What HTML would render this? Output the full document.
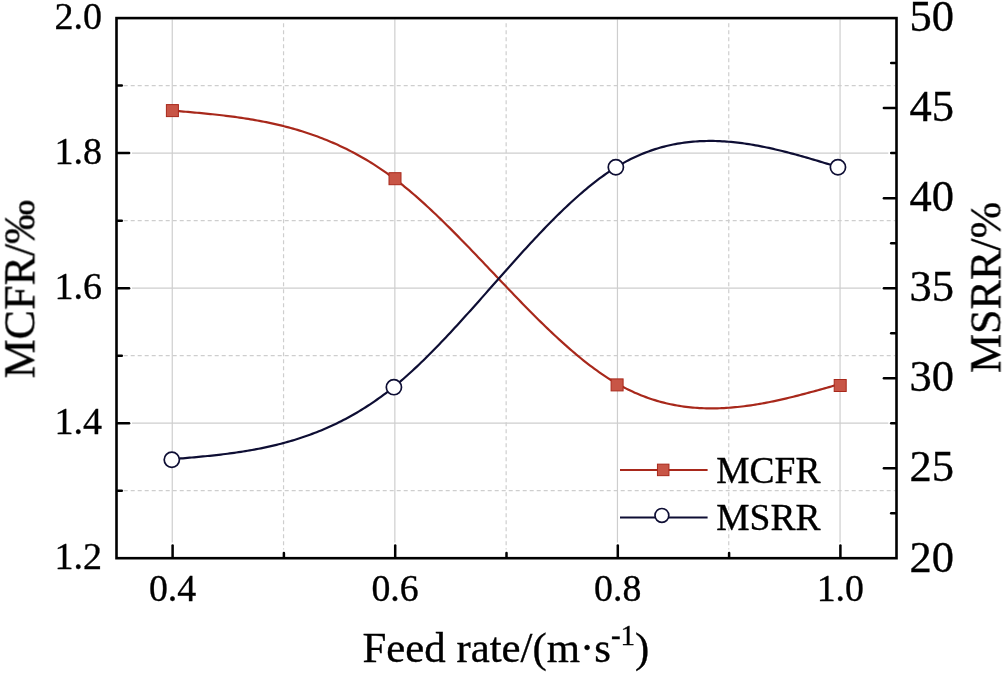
<!DOCTYPE html>
<html><head><meta charset="utf-8"><style>
html,body{margin:0;padding:0;background:#fff;}
body{width:1003px;height:673px;overflow:hidden;font-family:"Liberation Serif",serif;}
svg{display:block;} text{will-change:transform;}
</style></head><body>
<svg width="1003" height="673" viewBox="0 0 1003 673">
<rect width="1003" height="673" fill="#fff"/>
<line x1="172.25" y1="19.40" x2="172.25" y2="542.5" stroke="#cecece" stroke-width="1.2"/>
<line x1="394.85" y1="19.40" x2="394.85" y2="542.5" stroke="#cecece" stroke-width="1.2"/>
<line x1="617.45" y1="19.40" x2="617.45" y2="542.5" stroke="#cecece" stroke-width="1.2"/>
<line x1="840.05" y1="19.40" x2="840.05" y2="542.5" stroke="#cecece" stroke-width="1.2"/>
<line x1="283.55" y1="23.3" x2="283.55" y2="549.5" stroke="#cecece" stroke-width="1.2" stroke-dasharray="4 3"/>
<line x1="506.15" y1="23.3" x2="506.15" y2="549.5" stroke="#cecece" stroke-width="1.2" stroke-dasharray="4 3"/>
<line x1="728.75" y1="23.3" x2="728.75" y2="549.5" stroke="#cecece" stroke-width="1.2" stroke-dasharray="4 3"/>
<line x1="132" y1="423.18" x2="888.30" y2="423.18" stroke="#cecece" stroke-width="1.2"/>
<line x1="132" y1="288.15" x2="880.90" y2="288.15" stroke="#cecece" stroke-width="1.2"/>
<line x1="132" y1="153.12" x2="888.30" y2="153.12" stroke="#cecece" stroke-width="1.2"/>
<line x1="123.7" y1="490.69" x2="895.20" y2="490.69" stroke="#cecece" stroke-width="1.2" stroke-dasharray="4 3"/>
<line x1="123.7" y1="355.66" x2="895.20" y2="355.66" stroke="#cecece" stroke-width="1.2" stroke-dasharray="4 3"/>
<line x1="123.7" y1="220.64" x2="895.20" y2="220.64" stroke="#cecece" stroke-width="1.2" stroke-dasharray="4 3"/>
<line x1="123.7" y1="85.61" x2="895.20" y2="85.61" stroke="#cecece" stroke-width="1.2" stroke-dasharray="4 3"/>
<line x1="172.60" y1="556.90" x2="172.60" y2="545.60" stroke="#000" stroke-width="2.5" stroke-linecap="round"/>
<line x1="395.20" y1="556.90" x2="395.20" y2="545.60" stroke="#000" stroke-width="2.5" stroke-linecap="round"/>
<line x1="617.80" y1="556.90" x2="617.80" y2="545.60" stroke="#000" stroke-width="2.5" stroke-linecap="round"/>
<line x1="840.40" y1="556.90" x2="840.40" y2="545.60" stroke="#000" stroke-width="2.5" stroke-linecap="round"/>
<line x1="283.90" y1="556.90" x2="283.90" y2="552.90" stroke="#000" stroke-width="2.5" stroke-linecap="round"/>
<line x1="506.50" y1="556.90" x2="506.50" y2="552.90" stroke="#000" stroke-width="2.5" stroke-linecap="round"/>
<line x1="729.10" y1="556.90" x2="729.10" y2="552.90" stroke="#000" stroke-width="2.5" stroke-linecap="round"/>
<line x1="117.80" y1="490.69" x2="121.80" y2="490.69" stroke="#000" stroke-width="2.5" stroke-linecap="round"/>
<line x1="117.80" y1="423.18" x2="129.10" y2="423.18" stroke="#000" stroke-width="2.5" stroke-linecap="round"/>
<line x1="117.80" y1="355.66" x2="121.80" y2="355.66" stroke="#000" stroke-width="2.5" stroke-linecap="round"/>
<line x1="117.80" y1="288.15" x2="129.10" y2="288.15" stroke="#000" stroke-width="2.5" stroke-linecap="round"/>
<line x1="117.80" y1="220.64" x2="121.80" y2="220.64" stroke="#000" stroke-width="2.5" stroke-linecap="round"/>
<line x1="117.80" y1="153.12" x2="129.10" y2="153.12" stroke="#000" stroke-width="2.5" stroke-linecap="round"/>
<line x1="117.80" y1="85.61" x2="121.80" y2="85.61" stroke="#000" stroke-width="2.5" stroke-linecap="round"/>
<line x1="895.20" y1="513.19" x2="891.20" y2="513.19" stroke="#000" stroke-width="2.5" stroke-linecap="round"/>
<line x1="895.20" y1="468.18" x2="883.90" y2="468.18" stroke="#000" stroke-width="2.5" stroke-linecap="round"/>
<line x1="895.20" y1="423.18" x2="891.20" y2="423.18" stroke="#000" stroke-width="2.5" stroke-linecap="round"/>
<line x1="895.20" y1="378.17" x2="883.90" y2="378.17" stroke="#000" stroke-width="2.5" stroke-linecap="round"/>
<line x1="895.20" y1="333.16" x2="891.20" y2="333.16" stroke="#000" stroke-width="2.5" stroke-linecap="round"/>
<line x1="895.20" y1="288.15" x2="883.90" y2="288.15" stroke="#000" stroke-width="2.5" stroke-linecap="round"/>
<line x1="895.20" y1="243.14" x2="891.20" y2="243.14" stroke="#000" stroke-width="2.5" stroke-linecap="round"/>
<line x1="895.20" y1="198.13" x2="883.90" y2="198.13" stroke="#000" stroke-width="2.5" stroke-linecap="round"/>
<line x1="895.20" y1="153.12" x2="891.20" y2="153.12" stroke="#000" stroke-width="2.5" stroke-linecap="round"/>
<line x1="895.20" y1="108.12" x2="883.90" y2="108.12" stroke="#000" stroke-width="2.5" stroke-linecap="round"/>
<line x1="895.20" y1="63.11" x2="891.20" y2="63.11" stroke="#000" stroke-width="2.5" stroke-linecap="round"/>
<rect x="116.5" y="18.1" width="780.0" height="540.1" fill="none" stroke="#000" stroke-width="2.6"/>
<path d="M172.40,110.65 L174.63,110.84 L176.87,111.02 L179.10,111.21 L181.33,111.40 L183.57,111.58 L185.80,111.77 L188.03,111.97 L190.27,112.16 L192.50,112.36 L194.73,112.56 L196.97,112.76 L199.20,112.96 L201.43,113.17 L203.67,113.39 L205.90,113.60 L208.14,113.83 L210.37,114.05 L212.60,114.28 L214.84,114.52 L217.07,114.76 L219.30,115.01 L221.54,115.27 L223.77,115.53 L226.00,115.80 L228.24,116.08 L230.47,116.36 L232.70,116.65 L234.94,116.95 L237.17,117.26 L239.40,117.58 L241.64,117.91 L243.87,118.24 L246.10,118.59 L248.34,118.94 L250.57,119.31 L252.80,119.69 L255.04,120.07 L257.27,120.47 L259.50,120.88 L261.74,121.31 L263.97,121.74 L266.20,122.19 L268.44,122.65 L270.67,123.12 L272.91,123.60 L275.14,124.10 L277.37,124.62 L279.61,125.14 L281.84,125.69 L284.07,126.24 L286.31,126.82 L288.54,127.40 L290.77,128.01 L293.01,128.63 L295.24,129.26 L297.47,129.91 L299.71,130.58 L301.94,131.27 L304.17,131.98 L306.41,132.70 L308.64,133.44 L310.87,134.20 L313.11,134.98 L315.34,135.77 L317.57,136.59 L319.81,137.42 L322.04,138.28 L324.27,139.16 L326.51,140.05 L328.74,140.97 L330.97,141.91 L333.21,142.87 L335.44,143.85 L337.67,144.86 L339.91,145.89 L342.14,146.94 L344.38,148.01 L346.61,149.11 L348.84,150.23 L351.08,151.37 L353.31,152.54 L355.54,153.73 L357.78,154.95 L360.01,156.19 L362.24,157.46 L364.48,158.75 L366.71,160.07 L368.94,161.42 L371.18,162.79 L373.41,164.19 L375.64,165.62 L377.88,167.08 L380.11,168.56 L382.34,170.07 L384.58,171.61 L386.81,173.18 L389.04,174.78 L391.28,176.40 L393.51,178.06 L395.74,179.75 L397.98,181.46 L400.21,183.21 L402.44,184.98 L404.68,186.79 L406.91,188.62 L409.15,190.47 L411.38,192.35 L413.61,194.26 L415.85,196.19 L418.08,198.15 L420.31,200.13 L422.55,202.13 L424.78,204.15 L427.01,206.19 L429.25,208.26 L431.48,210.34 L433.71,212.45 L435.95,214.57 L438.18,216.70 L440.41,218.86 L442.65,221.03 L444.88,223.22 L447.11,225.42 L449.35,227.64 L451.58,229.87 L453.81,232.11 L456.05,234.36 L458.28,236.63 L460.51,238.90 L462.75,241.19 L464.98,243.49 L467.21,245.79 L469.45,248.10 L471.68,250.42 L473.92,252.75 L476.15,255.08 L478.38,257.41 L480.62,259.75 L482.85,262.10 L485.08,264.45 L487.32,266.80 L489.55,269.15 L491.78,271.50 L494.02,273.86 L496.25,276.21 L498.48,278.56 L500.72,280.91 L502.95,283.26 L505.18,285.60 L507.42,287.94 L509.65,290.28 L511.88,292.61 L514.12,294.93 L516.35,297.25 L518.58,299.56 L520.82,301.86 L523.05,304.16 L525.28,306.44 L527.52,308.72 L529.75,310.98 L531.98,313.24 L534.22,315.48 L536.45,317.70 L538.68,319.92 L540.92,322.12 L543.15,324.30 L545.39,326.47 L547.62,328.62 L549.85,330.76 L552.09,332.88 L554.32,334.98 L556.55,337.06 L558.79,339.12 L561.02,341.16 L563.25,343.18 L565.49,345.18 L567.72,347.16 L569.95,349.11 L572.19,351.04 L574.42,352.94 L576.65,354.82 L578.89,356.67 L581.12,358.50 L583.35,360.30 L585.59,362.07 L587.82,363.81 L590.05,365.52 L592.29,367.20 L594.52,368.86 L596.75,370.48 L598.99,372.07 L601.22,373.62 L603.45,375.14 L605.69,376.63 L607.92,378.08 L610.16,379.50 L612.39,380.88 L614.62,382.22 L616.86,383.53 L619.09,384.80 L621.32,386.03 L623.56,387.22 L625.79,388.37 L628.02,389.49 L630.26,390.57 L632.49,391.62 L634.72,392.63 L636.96,393.60 L639.19,394.54 L641.42,395.44 L643.66,396.31 L645.89,397.15 L648.12,397.95 L650.36,398.72 L652.59,399.45 L654.82,400.16 L657.06,400.83 L659.29,401.47 L661.52,402.08 L663.76,402.66 L665.99,403.21 L668.22,403.73 L670.46,404.21 L672.69,404.67 L674.93,405.10 L677.16,405.51 L679.39,405.88 L681.63,406.23 L683.86,406.55 L686.09,406.84 L688.33,407.10 L690.56,407.34 L692.79,407.55 L695.03,407.74 L697.26,407.91 L699.49,408.04 L701.73,408.16 L703.96,408.25 L706.19,408.31 L708.43,408.36 L710.66,408.38 L712.89,408.38 L715.13,408.35 L717.36,408.31 L719.59,408.24 L721.83,408.16 L724.06,408.05 L726.29,407.92 L728.53,407.77 L730.76,407.61 L732.99,407.42 L735.23,407.22 L737.46,407.00 L739.69,406.76 L741.93,406.50 L744.16,406.23 L746.40,405.94 L748.63,405.63 L750.86,405.31 L753.10,404.97 L755.33,404.62 L757.56,404.25 L759.80,403.87 L762.03,403.48 L764.26,403.07 L766.50,402.64 L768.73,402.21 L770.96,401.76 L773.20,401.30 L775.43,400.83 L777.66,400.35 L779.90,399.86 L782.13,399.36 L784.36,398.84 L786.60,398.32 L788.83,397.79 L791.06,397.25 L793.30,396.70 L795.53,396.14 L797.76,395.58 L800.00,395.01 L802.23,394.43 L804.46,393.84 L806.70,393.25 L808.93,392.65 L811.17,392.05 L813.40,391.44 L815.63,390.83 L817.87,390.21 L820.10,389.59 L822.33,388.97 L824.57,388.34 L826.80,387.71 L829.03,387.08 L831.27,386.45 L833.50,385.81 L835.73,385.18 L837.97,384.54 L840.20,383.90" fill="none" stroke="#a8281b" stroke-width="2.2"/>
<path d="M171.80,459.22 L174.03,459.03 L176.26,458.85 L178.48,458.66 L180.71,458.47 L182.94,458.28 L185.17,458.09 L187.40,457.90 L189.62,457.70 L191.85,457.51 L194.08,457.31 L196.31,457.10 L198.54,456.89 L200.76,456.68 L202.99,456.47 L205.22,456.25 L207.45,456.02 L209.67,455.79 L211.90,455.55 L214.13,455.31 L216.36,455.06 L218.59,454.81 L220.81,454.55 L223.04,454.28 L225.27,454.00 L227.50,453.72 L229.73,453.43 L231.95,453.13 L234.18,452.82 L236.41,452.50 L238.64,452.17 L240.87,451.83 L243.09,451.49 L245.32,451.13 L247.55,450.76 L249.78,450.38 L252.01,449.99 L254.23,449.58 L256.46,449.17 L258.69,448.74 L260.92,448.30 L263.14,447.85 L265.37,447.38 L267.60,446.90 L269.83,446.40 L272.06,445.89 L274.28,445.37 L276.51,444.83 L278.74,444.28 L280.97,443.71 L283.20,443.12 L285.42,442.52 L287.65,441.90 L289.88,441.27 L292.11,440.61 L294.34,439.94 L296.56,439.25 L298.79,438.55 L301.02,437.82 L303.25,437.08 L305.48,436.31 L307.70,435.53 L309.93,434.73 L312.16,433.90 L314.39,433.06 L316.62,432.20 L318.84,431.31 L321.07,430.40 L323.30,429.47 L325.53,428.52 L327.75,427.55 L329.98,426.55 L332.21,425.53 L334.44,424.49 L336.67,423.42 L338.89,422.33 L341.12,421.21 L343.35,420.07 L345.58,418.91 L347.81,417.72 L350.03,416.50 L352.26,415.26 L354.49,413.99 L356.72,412.69 L358.95,411.37 L361.17,410.02 L363.40,408.64 L365.63,407.23 L367.86,405.80 L370.09,404.33 L372.31,402.84 L374.54,401.32 L376.77,399.77 L379.00,398.19 L381.23,396.57 L383.45,394.93 L385.68,393.26 L387.91,391.55 L390.14,389.82 L392.36,388.05 L394.59,386.25 L396.82,384.41 L399.05,382.55 L401.28,380.65 L403.50,378.73 L405.73,376.77 L407.96,374.79 L410.19,372.78 L412.42,370.74 L414.64,368.67 L416.87,366.58 L419.10,364.47 L421.33,362.33 L423.56,360.17 L425.78,357.98 L428.01,355.77 L430.24,353.55 L432.47,351.30 L434.70,349.03 L436.92,346.74 L439.15,344.43 L441.38,342.11 L443.61,339.77 L445.83,337.41 L448.06,335.04 L450.29,332.66 L452.52,330.26 L454.75,327.84 L456.97,325.42 L459.20,322.98 L461.43,320.53 L463.66,318.08 L465.89,315.61 L468.11,313.13 L470.34,310.65 L472.57,308.16 L474.80,305.66 L477.03,303.16 L479.25,300.65 L481.48,298.14 L483.71,295.63 L485.94,293.11 L488.17,290.59 L490.39,288.07 L492.62,285.55 L494.85,283.03 L497.08,280.51 L499.31,277.99 L501.53,275.47 L503.76,272.96 L505.99,270.45 L508.22,267.95 L510.44,265.45 L512.67,262.96 L514.90,260.47 L517.13,257.99 L519.36,255.52 L521.58,253.06 L523.81,250.61 L526.04,248.17 L528.27,245.75 L530.50,243.33 L532.72,240.93 L534.95,238.54 L537.18,236.16 L539.41,233.80 L541.64,231.46 L543.86,229.13 L546.09,226.82 L548.32,224.53 L550.55,222.25 L552.78,220.00 L555.00,217.77 L557.23,215.55 L559.46,213.36 L561.69,211.19 L563.92,209.05 L566.14,206.93 L568.37,204.83 L570.60,202.76 L572.83,200.71 L575.05,198.70 L577.28,196.71 L579.51,194.74 L581.74,192.81 L583.97,190.91 L586.19,189.04 L588.42,187.19 L590.65,185.39 L592.88,183.61 L595.11,181.87 L597.33,180.16 L599.56,178.49 L601.79,176.85 L604.02,175.25 L606.25,173.68 L608.47,172.16 L610.70,170.67 L612.93,169.23 L615.16,167.82 L617.39,166.45 L619.61,165.13 L621.84,163.84 L624.07,162.60 L626.30,161.39 L628.52,160.23 L630.75,159.10 L632.98,158.01 L635.21,156.96 L637.44,155.95 L639.66,154.98 L641.89,154.04 L644.12,153.14 L646.35,152.27 L648.58,151.44 L650.80,150.65 L653.03,149.88 L655.26,149.16 L657.49,148.47 L659.72,147.81 L661.94,147.18 L664.17,146.59 L666.40,146.03 L668.63,145.50 L670.86,145.00 L673.08,144.53 L675.31,144.10 L677.54,143.69 L679.77,143.32 L682.00,142.97 L684.22,142.65 L686.45,142.36 L688.68,142.10 L690.91,141.87 L693.13,141.66 L695.36,141.48 L697.59,141.33 L699.82,141.20 L702.05,141.10 L704.27,141.03 L706.50,140.98 L708.73,140.95 L710.96,140.95 L713.19,140.97 L715.41,141.01 L717.64,141.08 L719.87,141.17 L722.10,141.28 L724.33,141.41 L726.55,141.57 L728.78,141.74 L731.01,141.94 L733.24,142.15 L735.47,142.38 L737.69,142.64 L739.92,142.91 L742.15,143.20 L744.38,143.51 L746.61,143.83 L748.83,144.17 L751.06,144.53 L753.29,144.90 L755.52,145.30 L757.74,145.70 L759.97,146.12 L762.20,146.56 L764.43,147.00 L766.66,147.47 L768.88,147.94 L771.11,148.43 L773.34,148.93 L775.57,149.45 L777.80,149.97 L780.02,150.51 L782.25,151.05 L784.48,151.61 L786.71,152.18 L788.94,152.75 L791.16,153.34 L793.39,153.93 L795.62,154.53 L797.85,155.14 L800.08,155.76 L802.30,156.39 L804.53,157.02 L806.76,157.66 L808.99,158.30 L811.21,158.95 L813.44,159.60 L815.67,160.26 L817.90,160.92 L820.13,161.59 L822.35,162.26 L824.58,162.93 L826.81,163.60 L829.04,164.28 L831.27,164.96 L833.49,165.64 L835.72,166.32 L837.95,167.00" fill="none" stroke="#0e0e34" stroke-width="2.2"/>
<rect x="166.40" y="104.60" width="12" height="12" fill="#c85546" stroke="#a8281b" stroke-width="1"/>
<rect x="389.00" y="172.70" width="12" height="12" fill="#c85546" stroke="#a8281b" stroke-width="1"/>
<rect x="611.10" y="378.90" width="12" height="12" fill="#c85546" stroke="#a8281b" stroke-width="1"/>
<rect x="834.20" y="379.50" width="12" height="12" fill="#c85546" stroke="#a8281b" stroke-width="1"/>
<circle cx="171.80" cy="459.70" r="7.6" fill="#fff" stroke="#0e0e34" stroke-width="1.7"/>
<circle cx="393.90" cy="387.15" r="7.6" fill="#fff" stroke="#0e0e34" stroke-width="1.7"/>
<circle cx="615.85" cy="167.25" r="7.6" fill="#fff" stroke="#0e0e34" stroke-width="1.7"/>
<circle cx="837.95" cy="167.25" r="7.6" fill="#fff" stroke="#0e0e34" stroke-width="1.7"/>
<line x1="620" y1="470.1" x2="707.6" y2="470.1" stroke="#a8281b" stroke-width="2"/>
<rect x="657.45" y="464.15" width="11.5" height="11.5" fill="#c85546" stroke="#a8281b" stroke-width="1"/>
<line x1="620" y1="517.4" x2="707.6" y2="517.4" stroke="#0e0e34" stroke-width="2"/>
<circle cx="661.9" cy="515.4" r="6.9" fill="#fff" stroke="#0e0e34" stroke-width="1.7"/>
<text x="716.2" y="482.6" font-family="Liberation Serif, serif" stroke="#000" stroke-width="0.35" font-size="37.5">MCFR</text>
<text x="716.2" y="530.2" font-family="Liberation Serif, serif" stroke="#000" stroke-width="0.35" font-size="37.5">MSRR</text>
<text x="101.9" y="29.00" font-family="Liberation Serif, serif" stroke="#000" stroke-width="0.35" font-size="38" text-anchor="end">2.0</text>
<text x="101.9" y="164.02" font-family="Liberation Serif, serif" stroke="#000" stroke-width="0.35" font-size="38" text-anchor="end">1.8</text>
<text x="101.9" y="299.05" font-family="Liberation Serif, serif" stroke="#000" stroke-width="0.35" font-size="38" text-anchor="end">1.6</text>
<text x="101.9" y="434.08" font-family="Liberation Serif, serif" stroke="#000" stroke-width="0.35" font-size="38" text-anchor="end">1.4</text>
<text x="101.9" y="569.10" font-family="Liberation Serif, serif" stroke="#000" stroke-width="0.35" font-size="38" text-anchor="end">1.2</text>
<text x="172.50" y="600.8" font-family="Liberation Serif, serif" stroke="#000" stroke-width="0.35" font-size="37.8" text-anchor="middle">0.4</text>
<text x="395.10" y="600.8" font-family="Liberation Serif, serif" stroke="#000" stroke-width="0.35" font-size="37.8" text-anchor="middle">0.6</text>
<text x="617.70" y="600.8" font-family="Liberation Serif, serif" stroke="#000" stroke-width="0.35" font-size="37.8" text-anchor="middle">0.8</text>
<text x="840.30" y="600.8" font-family="Liberation Serif, serif" stroke="#000" stroke-width="0.35" font-size="37.8" text-anchor="middle">1.0</text>
<text x="909.5" y="31.40" font-family="Liberation Serif, serif" stroke="#000" stroke-width="0.35" font-size="44.5">50</text>
<text x="909.5" y="121.42" font-family="Liberation Serif, serif" stroke="#000" stroke-width="0.35" font-size="44.5">45</text>
<text x="909.5" y="211.43" font-family="Liberation Serif, serif" stroke="#000" stroke-width="0.35" font-size="44.5">40</text>
<text x="909.5" y="301.45" font-family="Liberation Serif, serif" stroke="#000" stroke-width="0.35" font-size="44.5">35</text>
<text x="909.5" y="391.47" font-family="Liberation Serif, serif" stroke="#000" stroke-width="0.35" font-size="44.5">30</text>
<text x="909.5" y="481.48" font-family="Liberation Serif, serif" stroke="#000" stroke-width="0.35" font-size="44.5">25</text>
<text x="909.5" y="571.50" font-family="Liberation Serif, serif" stroke="#000" stroke-width="0.35" font-size="44.5">20</text>
<text x="362.5" y="661.6" font-family="Liberation Serif, serif" stroke="#000" stroke-width="0.35" font-size="42.8">Feed rate/(m·s<tspan font-size="29" dy="-17">-1</tspan><tspan dy="17">)</tspan></text>
<text transform="translate(34.4,378.4) rotate(-90)" x="0" y="0" font-family="Liberation Serif, serif" stroke="#000" stroke-width="0.35" font-size="44">MCFR/‰</text>
<text transform="translate(1000.4,373.0) rotate(-90)" x="0" y="0" font-family="Liberation Serif, serif" stroke="#000" stroke-width="0.35" font-size="44">MSRR/%</text>
</svg>
</body></html>
